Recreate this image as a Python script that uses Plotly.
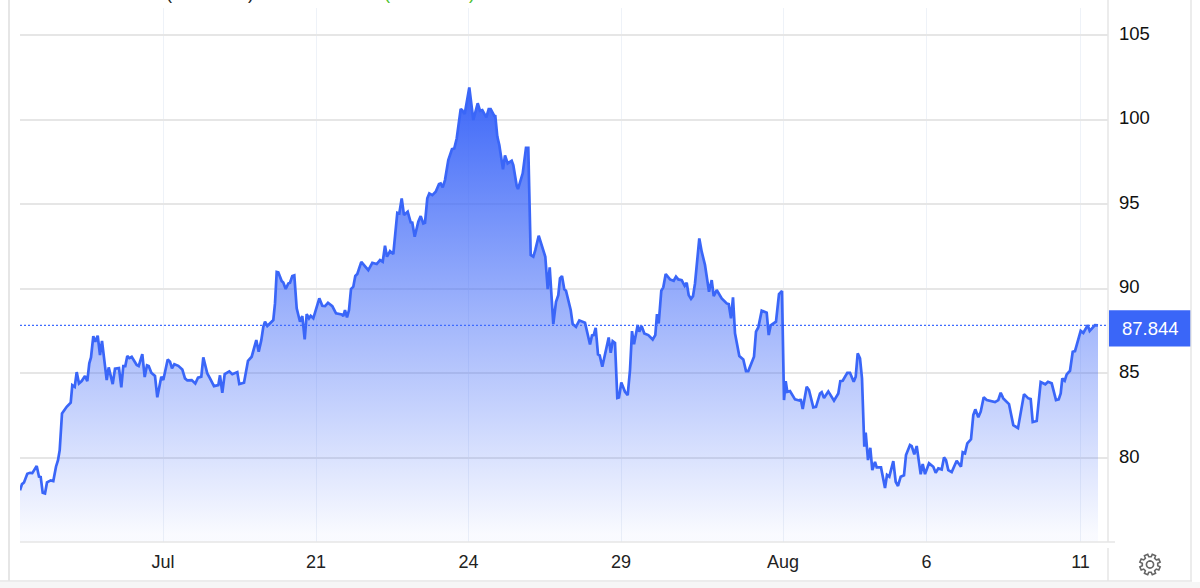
import math
import plotly.graph_objects as go

# chart values
bars = [
    20, 22, 24, 27.3, 30, 32.3, 36.7, 39, 40.7, 42.7, 45, 47, 50.7, 53.3, 56, 58, 59.7, 62, 66.7, 70.7,
    72.3, 74.7, 76.7, 79, 81.7, 85, 87.3, 89.3, 91, 93.3, 95.3, 97.7, 100, 102, 106.7, 108.7, 112.7, 115, 119, 121.3,
    123.3, 125.3, 127.3, 129.3, 131.7, 136.7, 138.7, 142.3, 144.7, 147, 148.7, 151.3, 155, 157.3, 161.3, 163.3, 167.7, 170, 172, 174.3,
    178.3, 182.3, 185, 187.3, 191.7, 195.3, 198, 201.3, 203.3, 207.3, 210, 214, 218.3, 220, 222.3, 224.7, 229.3, 232.3, 237.3, 239.3,
    244, 248, 251.7, 256.3, 258.7, 261.3, 263.3, 265, 267.3, 270, 273.3, 275, 276.7, 278.3, 281.7, 283.3, 285.7, 288.3, 290, 292.3,
    294.3, 296.7, 300, 302.3, 304.7, 306.7, 309, 310.7, 313.3, 319.3, 322.3, 325, 328, 332.3, 336, 341.7, 343.3, 345, 347, 349,
    351, 353.3, 355.3, 357.3, 361.3, 368.3, 372.3, 376.7, 380, 382.7, 385, 387, 390, 393.3, 397.3, 399.3, 401.7, 404, 407.7, 410.7,
    412.3, 414.7, 418.3, 420.7, 423.3, 425, 427.3, 429.3, 432.3, 435.7, 439, 440.7, 442.7, 445, 448.3, 452, 454.3, 456.7, 460.7, 462,
    464.7, 469.3, 473.3, 477.7, 480, 482.3, 486.3, 488.7, 490.7, 494.3, 495.3, 497.3, 499.3, 503, 505, 507.7, 511.7, 513.3, 516.7, 518,
    522.7, 526, 528.3, 530.7, 533.3, 535.3, 538.7, 545.3, 547.7, 549.7, 553.3, 556, 558.3, 560, 562, 564.3, 566, 570.7, 572.7, 576,
    579.3, 585, 590, 592, 593.7, 595.7, 598, 599.7, 602.3, 608.7, 610.7, 612.7, 615, 617.3, 619, 621.3, 625, 627.7, 630, 632,
    634, 637.7, 639.3, 641.7, 644.3, 648.3, 652.7, 655.3, 657, 658.7, 661.3, 663.3, 665.7, 670, 673.7, 676, 678.3, 681.7, 684.7, 686.7,
    688.7, 691, 693, 695, 699.3, 701.7, 705, 709, 711.7, 713.7, 716.7, 721.7, 726.7, 728.7, 731, 733, 735, 739.3, 743.3, 746,
    748.3, 754, 756, 758.3, 761.7, 766.7, 768.7, 770.7, 776, 779, 782, 784, 785.7, 787.3, 790, 795, 800, 800.7, 802.7, 806.7,
    809, 813.3, 816, 820, 821.7, 824, 828.3, 834, 838.3, 840.3, 842.7, 847.3, 850, 853.7, 855.7, 857.7, 860, 862, 864.3, 865.7,
    868, 870.3, 872.3, 875, 876.7, 881, 885, 887, 889.3, 893.3, 895.7, 898, 900.7, 904, 906, 910, 911.7, 914.3, 916.7, 920.7,
    922.7, 925, 929, 933.3, 935.7, 938.3, 941.7, 944, 946, 948.3, 951.7, 956.7, 961, 962.7, 965, 967.3, 971, 973.3, 975.3, 978.3,
    980.7, 983.7, 986.7, 995, 998.3, 1000.7, 1003.3, 1009, 1013.3, 1018, 1024, 1028.3, 1030.7, 1032.7, 1036.7, 1040.7, 1045.3, 1048, 1051.7, 1056,
    1058.7, 1060.7, 1062.3, 1064.7, 1066.7, 1070, 1072.7, 1075, 1080.7, 1083.3, 1087.7, 1089.7, 1095, 1098,
]
prices = [
    78.1, 78.46, 78.56, 79.07, 79.13, 79.11, 79.53, 78.9, 78.88, 77.95, 77.91, 78.56, 78.68, 78.64, 79.49, 79.88, 80.47, 82.64, 83.03, 83.27,
    84.31, 84.21, 85.08, 84.41, 84.55, 84.85, 84.55, 85.6, 85.95, 87.21, 86.87, 87.23, 86.09, 86.93, 84.61, 85.36, 84.37, 85.28, 85.32, 84.18,
    85.44, 85.44, 86.03, 85.91, 85.99, 85.5, 85.44, 86.15, 84.79, 85.48, 85.44, 85.04, 84.85, 83.59, 84.81, 84.61, 85.83, 85.69, 85.3, 85.55,
    85.45, 85.24, 84.71, 84.59, 84.61, 84.41, 84.75, 84.81, 85.95, 85.0, 84.71, 84.25, 84.31, 84.89, 83.86, 84.96, 85.12, 84.96, 85.08, 84.37,
    84.45, 85.75, 85.99, 86.97, 86.28, 86.97, 87.76, 88.06, 87.81, 87.96, 88.16, 89.14, 91.0, 90.97, 90.46, 90.38, 89.99, 90.32, 90.36, 90.76,
    90.8, 88.85, 88.06, 88.39, 87.01, 88.51, 88.26, 88.41, 88.26, 89.44, 89.0, 88.98, 89.18, 88.98, 88.55, 88.49, 88.39, 88.75, 88.31, 88.75,
    89.99, 90.13, 90.76, 90.88, 91.6, 91.11, 91.54, 91.47, 91.7, 91.6, 92.55, 91.9, 92.23, 92.06, 94.5, 94.46, 95.35, 94.36, 94.56, 93.93,
    93.91, 93.08, 93.97, 94.3, 93.87, 93.91, 95.35, 95.64, 95.54, 95.74, 96.19, 96.23, 96.0, 96.43, 97.61, 98.26, 98.3, 98.89, 100.63, 100.57,
    100.33, 101.9, 99.98, 100.97, 100.53, 100.57, 100.14, 100.63, 100.63, 100.23, 100.21, 99.0, 98.5, 97.06, 97.89, 97.42, 97.57, 97.31, 96.09, 95.9,
    96.83, 98.34, 98.34, 92.0, 91.9, 92.29, 93.14, 91.9, 89.99, 91.27, 87.92, 89.24, 89.63, 90.62, 90.76, 89.97, 89.89, 88.75, 87.92, 87.76,
    88.14, 88.0, 86.72, 87.25, 87.27, 87.7, 86.13, 86.07, 85.4, 87.13, 86.22, 86.91, 86.81, 83.56, 83.59, 84.47, 83.92, 83.72, 85.2, 87.5,
    86.72, 87.86, 87.47, 87.8, 87.37, 87.27, 87.01, 87.27, 88.51, 87.96, 89.89, 90.09, 90.88, 90.56, 90.48, 90.72, 90.56, 90.52, 90.18, 90.36,
    89.63, 89.41, 89.57, 90.32, 92.98, 92.2, 91.41, 89.83, 90.52, 89.57, 89.93, 89.44, 89.14, 89.1, 88.26, 89.5, 87.37, 86.03, 85.83, 85.14,
    85.14, 85.99, 87.47, 87.72, 88.71, 88.59, 87.27, 87.84, 88.06, 89.69, 89.87, 83.43, 84.55, 83.92, 83.96, 83.47, 83.39, 83.49, 82.9, 84.21,
    84.02, 83.0, 83.03, 83.82, 83.9, 83.55, 83.94, 83.39, 83.82, 84.55, 84.57, 85.04, 85.04, 84.51, 84.81, 86.19, 85.89, 84.71, 80.67, 81.5,
    79.88, 80.61, 79.29, 79.78, 79.45, 79.45, 78.23, 79.0, 78.9, 79.82, 78.6, 78.35, 78.9, 78.98, 80.18, 80.77, 80.71, 80.22, 80.71, 79.04,
    79.65, 79.05, 79.69, 79.49, 79.13, 79.39, 79.33, 80.04, 79.88, 79.29, 79.17, 79.84, 79.49, 80.34, 80.28, 80.87, 81.11, 82.54, 82.88, 82.41,
    82.74, 83.59, 83.43, 83.31, 83.43, 83.86, 83.53, 83.19, 81.95, 81.77, 83.78, 83.53, 83.49, 82.13, 82.19, 84.49, 84.36, 84.51, 84.42, 83.43,
    83.47, 83.82, 84.71, 84.57, 84.95, 85.16, 86.28, 86.32, 87.52, 87.4, 87.86, 87.52, 87.86, 87.844,
]
x_tick_pos = [163, 316, 468.5, 621, 783, 926.5, 1080.5]
x_tick_labels = ['Jul', '21', '24', '29', 'Aug', '6', '11']
y_ticks = [80, 85, 90, 95, 100, 105]

BLUE = '#3a66f8'
GRID = '#e6e6e6'
FONT = 'Liberation Sans'

# pixel helpers for the frame around the plot
def px(x):
    return (x - 20) / 1088
def py(y):
    return (542 - y) / 534

# outline of the settings gear, 8 teeth
def gear_path(cx, cy):
    pts = []
    for i in range(8):
        a = i * math.pi / 4 - math.pi / 8
        for r, da in [(7.8, -0.24), (10.4, -0.17), (10.4, 0.17), (7.8, 0.24)]:
            pts.append((cx + r * math.cos(a + da), cy + r * math.sin(a + da)))
    path = 'M ' + ' L '.join(f'{px(x):.5f},{py(y):.5f}' for x, y in pts) + ' Z'
    hole = []
    for i in range(16):
        a = i * math.pi / 8
        hole.append((cx + 3.6 * math.cos(a), cy + 3.6 * math.sin(a)))
    path += ' M ' + ' L '.join(f'{px(x):.5f},{py(y):.5f}' for x, y in hole) + ' Z'
    return path

fig = go.Figure()

fig.add_trace(go.Scatter(
    x=bars,
    y=prices,
    mode='lines',
    line=dict(color=BLUE, width=2.7),
    fill='tozeroy',
    fillgradient=dict(
        type='vertical',
        start=75.5,
        stop=101.9,
        colorscale=[[0, 'rgba(61,103,248,0.03)'], [0.5, 'rgba(61,103,248,0.5)'], [1, 'rgba(61,103,248,1)']]
    ),
    hoverinfo='skip',
    showlegend=False
))

last_price = prices[-1]

shapes = [
    # last price line and box
    dict(type='line', xref='x', yref='y', x0=20, x1=1108, y0=last_price, y1=last_price,
         line=dict(color='#3f6bff', width=1.3, dash='2px,2px')),
    dict(type='rect', xref='paper', yref='y', x0=px(1109), x1=px(1191), y0=last_price - 1.25, y1=last_price + 0.9,
         fillcolor=BLUE, line=dict(width=0)),
    # frame
    dict(type='rect', xref='paper', yref='paper', x0=px(0), x1=px(1200), y0=py(588), y1=py(582),
         fillcolor='#f6f6f6', line=dict(width=0), layer='below'),
    dict(type='line', xref='paper', yref='paper', x0=px(0), x1=px(1192), y0=py(581), y1=py(581),
         line=dict(color=GRID, width=1.5)),
    dict(type='line', xref='paper', yref='paper', x0=px(9), x1=px(9), y0=py(0), y1=py(581),
         line=dict(color=GRID, width=2)),
    dict(type='line', xref='paper', yref='paper', x0=px(1191), x1=px(1191), y0=py(0), y1=py(581),
         line=dict(color=GRID, width=1.5)),
    dict(type='line', xref='paper', yref='paper', x0=px(1108), x1=px(1108), y0=py(0), y1=py(542),
         line=dict(color=GRID, width=1.5)),
    dict(type='line', xref='paper', yref='paper', x0=px(1108), x1=px(1108), y0=py(548), y1=py(581),
         line=dict(color=GRID, width=1.5)),
    dict(type='line', xref='paper', yref='paper', x0=px(20), x1=px(1115), y0=py(542), y1=py(542),
         line=dict(color=GRID, width=1.5)),
    # settings icon
    dict(type='path', xref='paper', yref='paper', path=gear_path(1150, 564.5),
         line=dict(color='#666666', width=1.6)),
]

fig.update_layout(
    width=1200,
    height=588,
    margin=dict(l=20, r=92, t=8, b=46),
    paper_bgcolor='white',
    plot_bgcolor='white',
    font=dict(family=FONT, size=18, color='#222222'),
    showlegend=False,
    shapes=shapes,
    xaxis=dict(
        range=[20, 1108],
        tickvals=x_tick_pos,
        ticktext=x_tick_labels,
        showgrid=True,
        gridcolor='#eef2f8',
        gridwidth=1.3,
        zeroline=False,
        showline=False,
        ticks='',
        ticklabelstandoff=7,
        tickfont=dict(size=18, color='#222222'),
    ),
    yaxis=dict(
        range=[75.04, 106.6],
        side='right',
        tickvals=y_ticks,
        showgrid=True,
        gridcolor=GRID,
        gridwidth=1.5,
        zeroline=False,
        showline=False,
        ticks='',
        ticklabelstandoff=10,
        ticklabelshift=-2,
        tickfont=dict(size=18.5, color='#111111'),
    ),
)

# last price label
fig.add_annotation(
    xref='paper', yref='y', x=px(1150), y=last_price - 0.2,
    xanchor='center',
    text=f'{last_price:.3f}', showarrow=False,
    font=dict(family=FONT, size=18.5, color='white')
)

# bottoms of the header brackets cut off by the top of the picture
for pos, mark, colour in [(169, '(', '#222222'), (251, ')', '#222222'), (387, '(', '#4cc22f'), (472, ')', '#4cc22f')]:
    fig.add_annotation(
        xref='paper', yref='paper', x=px(pos), y=py(5),
        xanchor='center', yanchor='bottom',
        text=mark, showarrow=False,
        font=dict(family=FONT, size=18, color=colour)
    )

fig.write_html("out.html", config=dict(displayModeBar=False), post_script="document.body.style.margin='0';")
